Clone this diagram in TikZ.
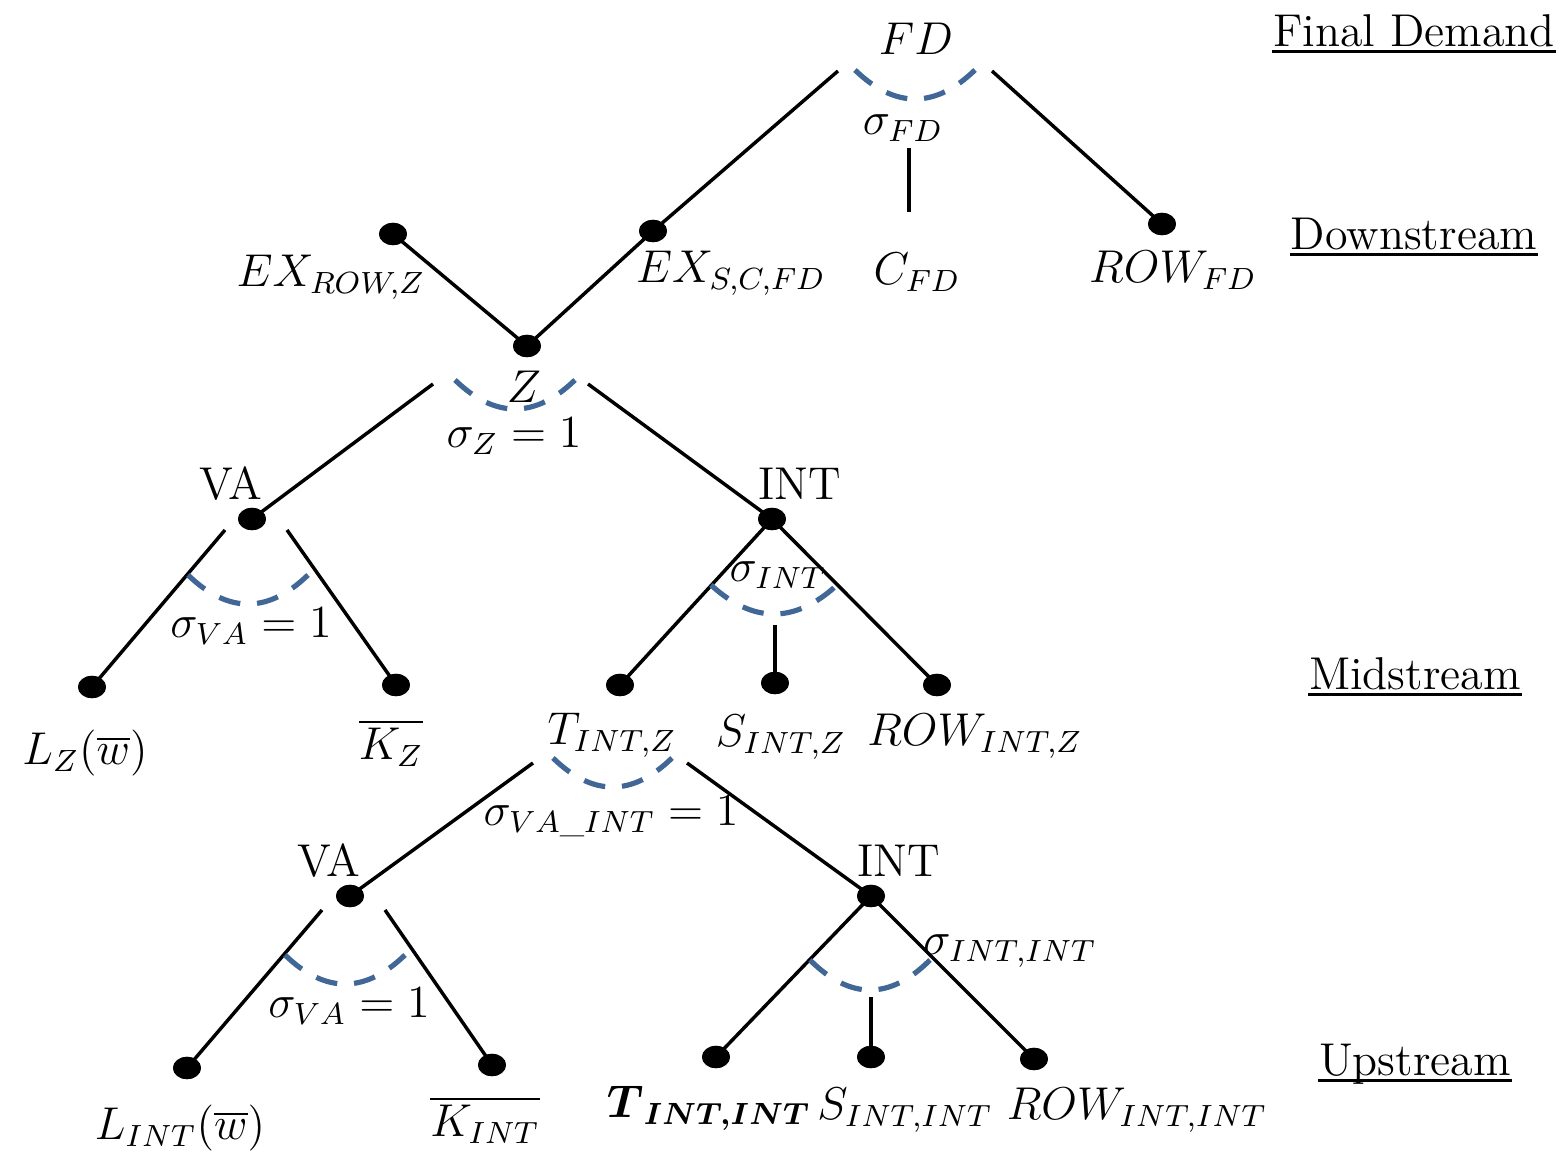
\documentclass[tikz,border=0pt]{standalone}
\usepackage{amsmath}
\usepackage{fontspec}
\usetikzlibrary{shapes.geometric}
\definecolor{arcblue}{RGB}{65,103,150}
\tikzset{
  dot/.style={shape=ellipse,fill=black,inner sep=0pt,minimum width=7.3pt,minimum height=5.8pt},
  edge/.style={draw=black,line width=0.9pt},
  sigarc/.style={draw=arcblue,line width=1.35pt,dash pattern=on 5.7pt off 4.4pt},
  lab/.style={anchor=base,inner sep=0pt,font=\large},
  head/.style={anchor=base,inner sep=0pt,font=\large},
  uline/.style={draw=black,line width=0.75pt}
}
\begin{document}
\begin{tikzpicture}[x=0.26087pt,y=-0.26087pt]
\useasboundingbox (0,0) rectangle (1562,1153);
% dots
\node[dot] (exr) at (393,234) {};
\node[dot] (exs) at (653,231) {};
\node[dot] (rowfd) at (1162,224) {};
\node[dot] (z) at (527,346) {};
\node[dot] (va) at (252,519) {};
\node[dot] (int) at (772,519) {};
\node[dot] (lz) at (92,687) {};
\node[dot] (kz) at (396,685) {};
\node[dot] (tz) at (620,685) {};
\node[dot] (sz) at (775,683) {};
\node[dot] (rz) at (937,685) {};
\node[dot] (vb) at (350,896) {};
\node[dot] (intb) at (871,896) {};
\node[dot] (li) at (187,1068) {};
\node[dot] (ki) at (492,1065) {};
\node[dot] (tii) at (716,1057) {};
\node[dot] (sii) at (871,1057) {};
\node[dot] (rii) at (1034,1059) {};
% free ends
\coordinate (fdl) at (838,71);
\coordinate (fdr) at (992,71);
\coordinate (fdm1) at (909,148);
\coordinate (fdm2) at (909,212);
\coordinate (zl) at (433,384);
\coordinate (zr) at (588,384);
\coordinate (val) at (225,530);
\coordinate (var) at (287,530);
\coordinate (intm) at (775,625);
\coordinate (tzl) at (533,763);
\coordinate (tzr) at (687,763);
\coordinate (vbl) at (322,910);
\coordinate (vbr) at (385,910);
\coordinate (intbm) at (871,997);
% edges
\draw[edge] (fdl) -- (exs.center);
\draw[edge] (exs.center) -- (z.center);
\draw[edge] (exr.center) -- (z.center);
\draw[edge] (fdr) -- (rowfd.center);
\draw[edge] (fdm1) -- (fdm2);
\draw[edge] (zl) -- (va.center);
\draw[edge] (zr) -- (int.center);
\draw[edge] (val) -- (lz.center);
\draw[edge] (var) -- (kz.center);
\draw[edge] (int.center) -- (tz.center);
\draw[edge] (int.center) -- (rz.center);
\draw[edge] (intm) -- (sz.center);
\draw[edge] (tzl) -- (vb.center);
\draw[edge] (tzr) -- (intb.center);
\draw[edge] (vbl) -- (li.center);
\draw[edge] (vbr) -- (ki.center);
\draw[edge] (intb.center) -- (tii.center);
\draw[edge] (intb.center) -- (rii.center);
\draw[edge] (intbm) -- (sii.center);
% redraw dots on top
\foreach \d in {exr,exs,rowfd,z,va,int,lz,kz,tz,sz,rz,vb,intb,li,ki,tii,sii,rii}
  \fill (\d.center) ellipse [x radius=3.65pt, y radius=2.9pt];
% dashed arcs
\draw[sigarc] (855,70) .. controls (895,108.7) and (935,108.7) .. (975,70);
\draw[sigarc] (455,380) .. controls (495,418.7) and (535,418.7) .. (575,380);
\draw[sigarc] (188,575) .. controls (228,613.7) and (268,613.7) .. (308,575);
\draw[sigarc] (711,585) .. controls (753,623.7) and (795,623.7) .. (837,585);
\draw[sigarc] (553,758) .. controls (592.7,796.7) and (632.3,796.7) .. (672,758);
\draw[sigarc] (285,955) .. controls (325,993.7) and (365,993.7) .. (405,955);
\draw[sigarc] (810,960) .. controls (850,1000) and (890,1000) .. (930,960);
% labels
\node[lab] (lfd) at (916,55) {$FD$};
\node[lab] (lsfd) at (903,135) {$\sigma_{FD}$};
\node[lab] (lexr) at (331,287) {$EX_{ROW,Z}$};
\node[lab] (lexs) at (731,283) {$EX_{S,C,FD}$};
\node[lab] (lcfd) at (917,285) {$C_{FD}$};
\node[lab] (lrowfd) at (1173,283) {$ROW_{FD}$};
\node[lab] (lzz) at (524,403) {$Z$};
\node[lab] (lsz) at (514,448) {$\sigma_Z=1$};
\node[lab] (lva) at (231,500) {VA};
\node[lab] (lint) at (800,500) {INT};
\node[lab] (lsva) at (251,638) {$\sigma_{VA}=1$};
\node[lab] (lsint) at (778,582) {$\sigma_{INT}$};
\node[lab] (llz) at (85,765) {$L_Z(\overline{w})$};
\node[lab] (lkz) at (391,760) {$\overline{K_Z}$};
\node[lab] (ltz) at (612,745) {$T_{INT,Z}$};
\node[lab] (lsz2) at (781,747) {$S_{INT,Z}$};
\node[lab] (lrz) at (975,746) {$ROW_{INT,Z}$};
\node[lab] (lsvaint) at (611,826) {$\sigma_{VA\_INT}=1$};
\node[lab] (lvb) at (329,877) {VA};
\node[lab] (lintb) at (899,877) {INT};
\node[lab] (lsvb) at (349,1018) {$\sigma_{VA}=1$};
\node[lab] (lsii) at (1010,955) {$\sigma_{INT,INT}$};
\node[lab] (lli) at (180,1140) {$L_{INT}(\overline{w})$};
\node[lab] (lki) at (485,1137) {$\overline{K_{INT}}$};
\node[lab] (ltii) at (709,1118) {$\boldsymbol{T}_{\boldsymbol{INT,INT}}$};
\node[lab] (lsii2) at (905,1120) {$S_{INT,INT}$};
\node[lab] (lrii) at (1137,1120) {$ROW_{INT,INT}$};
% headings
\node[head] (h1) at (1414,47) {Final Demand};
\node[head] (h2) at (1414,250) {Downstream};
\node[head] (h3) at (1415,690) {Midstream};
\node[head] (h4) at (1415,1076) {Upstream};
\foreach \h in {h1,h2,h3,h4}
  \draw[uline] ([yshift=-1.1pt]\h.base west) -- ([yshift=-1.1pt]\h.base east);
\end{tikzpicture}
\end{document}
